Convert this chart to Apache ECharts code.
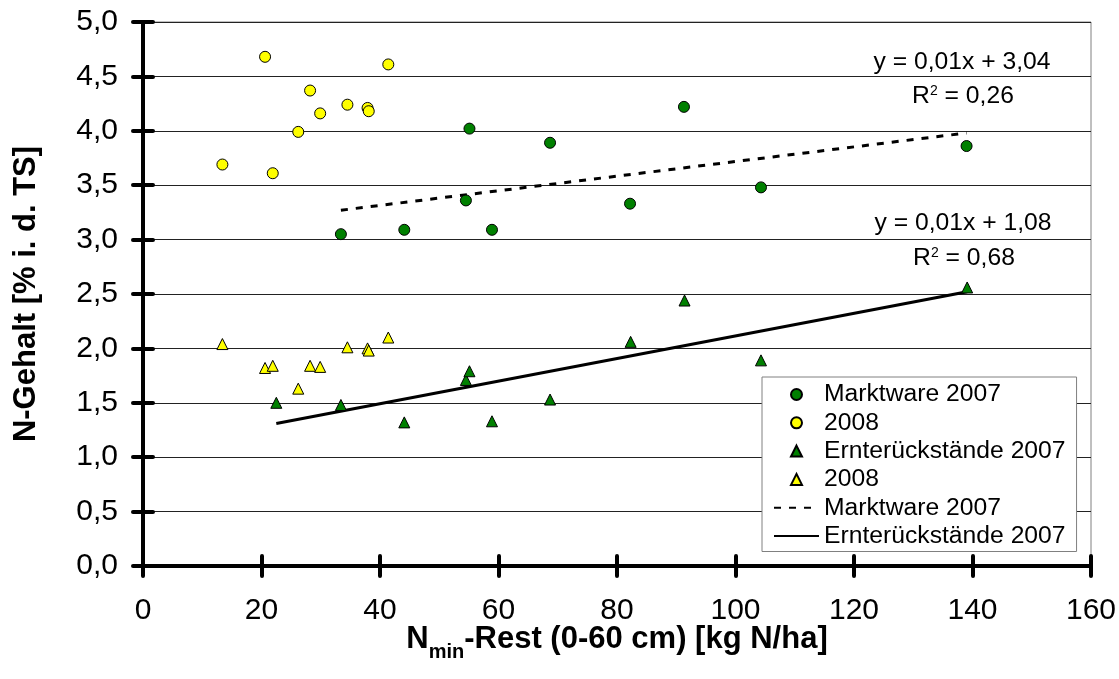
<!DOCTYPE html>
<html>
<head>
<meta charset="utf-8">
<title>N-Gehalt vs. Nmin-Rest</title>
<script src="https://cdn.jsdelivr.net/npm/echarts/dist/echarts.min.js"></script>
<style>
  html, body { margin: 0; padding: 0; background: #fff; }
  #chart { width: 1119px; height: 679px; }
</style>
</head>
<body>
<div id="chart"></div>
<script>
// x-Werte (Nmin-Rest, kg N/ha) und y-Werte (N-Gehalt, % i. d. TS)
const nminMarkt2007 = [33.4, 44.1, 54.5, 55.1, 58.9, 68.7, 82.2, 91.3, 104.3, 139.0];
const markt2007 = [3.05, 3.09, 3.36, 4.02, 3.09, 3.89, 3.33, 4.22, 3.48, 3.86];

const nmin2008 = [13.4, 20.6, 21.9, 26.2, 28.2, 29.9, 34.5, 37.9, 38.1, 41.4];
const markt2008 = [3.69, 4.68, 3.61, 3.99, 4.37, 4.16, 4.24, 4.21, 4.18, 4.61];
const ernte2008 = [2.04, 1.82, 1.84, 1.63, 1.84, 1.83, 2.01, 2.00, 1.98, 2.10];

const nminErnte2007 = [22.5, 33.4, 44.1, 54.5, 55.1, 58.9, 68.7, 82.3, 91.4, 104.3, 139.1];
const ernte2007 = [1.50, 1.48, 1.32, 1.71, 1.79, 1.33, 1.53, 2.06, 2.44, 1.89, 2.56];

// Trendlinien (Endpunkte)
const trendMarktX = [33.4, 139.0];
const trendMarktY = [3.27, 3.98];
const trendErnteX = [22.5, 139.1];
const trendErnteY = [1.31, 2.52];

const legendLabels = {
  markt2007: "Marktware 2007",
  markt2008: "2008",
  ernte2007: "Ernterückstände 2007",
  ernte2008: "2008",
  trendMarkt: "Marktware 2007",
  trendErnte: "Ernterückstände 2007"
};

const FONT = "'Liberation Sans', Arial, sans-serif";
const GREEN = "#008000";
const YELLOW = "#ffff00";
const TRIANGLE = "path://M5,0 L10,10 L0,10 Z";

const zip = (xs, ys) => xs.map((x, i) => [x, ys[i]]);

const chart = echarts.init(document.getElementById("chart"));

const tickStyle = { color: "#000", width: 4, cap: "round" };
const noSymbol = { color: "rgba(0,0,0,0)", borderWidth: 0, opacity: 0 };

const option = {
  backgroundColor: "#fff",
  animation: false,
  grid: {
    left: 143,
    right: 28,
    top: 22,
    bottom: 113,
    outerBoundsMode: "none",
    containLabel: false,
    show: true,
    borderColor: "#808080",
    borderWidth: 1
  },
  xAxis: [
    {
      type: "value",
      min: 0,
      max: 160,
      interval: 20,
      position: "bottom",
      axisLine: { show: true, onZero: false, lineStyle: { color: "#000", width: 4 } },
      axisTick: { show: true, length: 10, inside: false, lineStyle: tickStyle },
      axisLabel: { margin: 30, fontSize: 30, color: "#000", fontFamily: FONT },
      splitLine: { show: false }
    },
    {
      type: "value",
      min: 0,
      max: 160,
      interval: 20,
      position: "bottom",
      axisLine: { show: false },
      axisTick: { show: true, length: 10, inside: true, lineStyle: tickStyle },
      axisLabel: { show: false },
      splitLine: { show: false }
    }
  ],
  yAxis: [
    {
      type: "value",
      min: 0,
      max: 5,
      interval: 0.5,
      position: "left",
      axisLine: { show: true, onZero: false, lineStyle: { color: "#000", width: 4 } },
      axisTick: { show: true, length: 10, inside: false, lineStyle: tickStyle },
      axisLabel: {
        margin: 25,
        fontSize: 30,
        color: "#000",
        fontFamily: FONT,
        formatter: v => v.toFixed(1).replace(".", ",")
      },
      splitLine: { show: true, lineStyle: { color: "#222", width: 1 } }
    },
    {
      type: "value",
      min: 0,
      max: 5,
      interval: 0.5,
      position: "left",
      axisLine: { show: false },
      axisTick: { show: true, length: 10, inside: true, lineStyle: tickStyle },
      axisLabel: { show: false },
      splitLine: { show: false }
    }
  ],
  legend: {
    orient: "vertical",
    left: 762,
    top: 377,
    padding: [5, 11, 3, 11],
    itemWidth: 45,
    itemHeight: 11,
    itemGap: 3.3,
    symbolKeepAspect: true,
    backgroundColor: "#fff",
    borderColor: "#808080",
    borderWidth: 1,
    borderRadius: 0,
    selectedMode: false,
    textStyle: { fontSize: 24.7, lineHeight: 24, color: "#000", fontFamily: FONT },
    formatter: name => legendLabels[name],
    data: [
      { name: "markt2007", icon: "circle" },
      { name: "markt2008", icon: "circle" },
      { name: "ernte2007", icon: TRIANGLE },
      { name: "ernte2008", icon: TRIANGLE },
      { name: "trendMarkt", itemStyle: noSymbol },
      { name: "trendErnte", itemStyle: noSymbol }
    ]
  },
  series: [
    {
      name: "trendMarkt",
      type: "line",
      data: zip(trendMarktX, trendMarktY),
      symbol: "none",
      itemStyle: { color: "#000" },
      lineStyle: { color: "#000", width: 3, type: [7, 8] },
      z: 3
    },
    {
      name: "trendErnte",
      type: "line",
      data: zip(trendErnteX, trendErnteY),
      symbol: "none",
      itemStyle: { color: "#000" },
      lineStyle: { color: "#000", width: 3, type: "solid" },
      z: 3
    },
    {
      name: "markt2007",
      type: "scatter",
      data: zip(nminMarkt2007, markt2007),
      symbol: "circle",
      symbolSize: 11,
      itemStyle: { color: GREEN, borderColor: "#000", borderWidth: 1, opacity: 1 },
      z: 4
    },
    {
      name: "markt2008",
      type: "scatter",
      data: zip(nmin2008, markt2008),
      symbol: "circle",
      symbolSize: 11,
      itemStyle: { color: YELLOW, borderColor: "#000", borderWidth: 1, opacity: 1 },
      z: 4
    },
    {
      name: "ernte2007",
      type: "scatter",
      data: zip(nminErnte2007, ernte2007),
      symbol: "triangle",
      symbolSize: 11,
      itemStyle: { color: GREEN, borderColor: "#000", borderWidth: 1, opacity: 1 },
      z: 4
    },
    {
      name: "ernte2008",
      type: "scatter",
      data: zip(nmin2008, ernte2008),
      symbol: "triangle",
      symbolSize: 11,
      itemStyle: { color: YELLOW, borderColor: "#000", borderWidth: 1, opacity: 1 },
      z: 4
    }
  ],
  graphic: [
    {
      // y-Achsentitel
      type: "text",
      x: 26,
      y: 294,
      rotation: Math.PI / 2,
      style: {
        text: "N-Gehalt [% i. d. TS]",
        align: "center",
        verticalAlign: "middle",
        fontSize: 31,
        fontWeight: "bold",
        fontFamily: FONT,
        fill: "#000"
      }
    },
    {
      // x-Achsentitel
      type: "text",
      x: 617,
      y: 624,
      style: {
        text: "{b|N}{s|min}{b|-Rest (0-60 cm) [kg N/ha]}",
        align: "center",
        verticalAlign: "top",
        rich: {
          b: { fontSize: 31, lineHeight: 31, fontWeight: "bold", fontFamily: FONT, fill: "#000", verticalAlign: "top" },
          s: { fontSize: 20, lineHeight: 20, fontWeight: "bold", fontFamily: FONT, fill: "#000", verticalAlign: "top", padding: [18, 0, 0, 0] }
        }
      }
    },
    {
      type: "text", x: 962, y: 62,
      style: { text: "y = 0,01x + 3,04", align: "center", verticalAlign: "middle", fontSize: 24.7, fontFamily: FONT, fill: "#000" }
    },
    {
      type: "text", x: 963, y: 96,
      style: {
        text: "{n|R}{sup|2}{n| = 0,26}",
        align: "center", verticalAlign: "middle",
        rich: {
          n: { fontSize: 24.7, lineHeight: 24, fontFamily: FONT, fill: "#000" },
          sup: { fontSize: 14, lineHeight: 14, fontFamily: FONT, fill: "#000", verticalAlign: "top" }
        }
      }
    },
    {
      type: "text", x: 963, y: 223,
      style: { text: "y = 0,01x + 1,08", align: "center", verticalAlign: "middle", fontSize: 24.7, fontFamily: FONT, fill: "#000" }
    },
    {
      type: "text", x: 964, y: 258,
      style: {
        text: "{n|R}{sup|2}{n| = 0,68}",
        align: "center", verticalAlign: "middle",
        rich: {
          n: { fontSize: 24.7, lineHeight: 24, fontFamily: FONT, fill: "#000" },
          sup: { fontSize: 14, lineHeight: 14, fontFamily: FONT, fill: "#000", verticalAlign: "top" }
        }
      }
    }
  ]
};

chart.setOption(option);
</script>
</body>
</html>
